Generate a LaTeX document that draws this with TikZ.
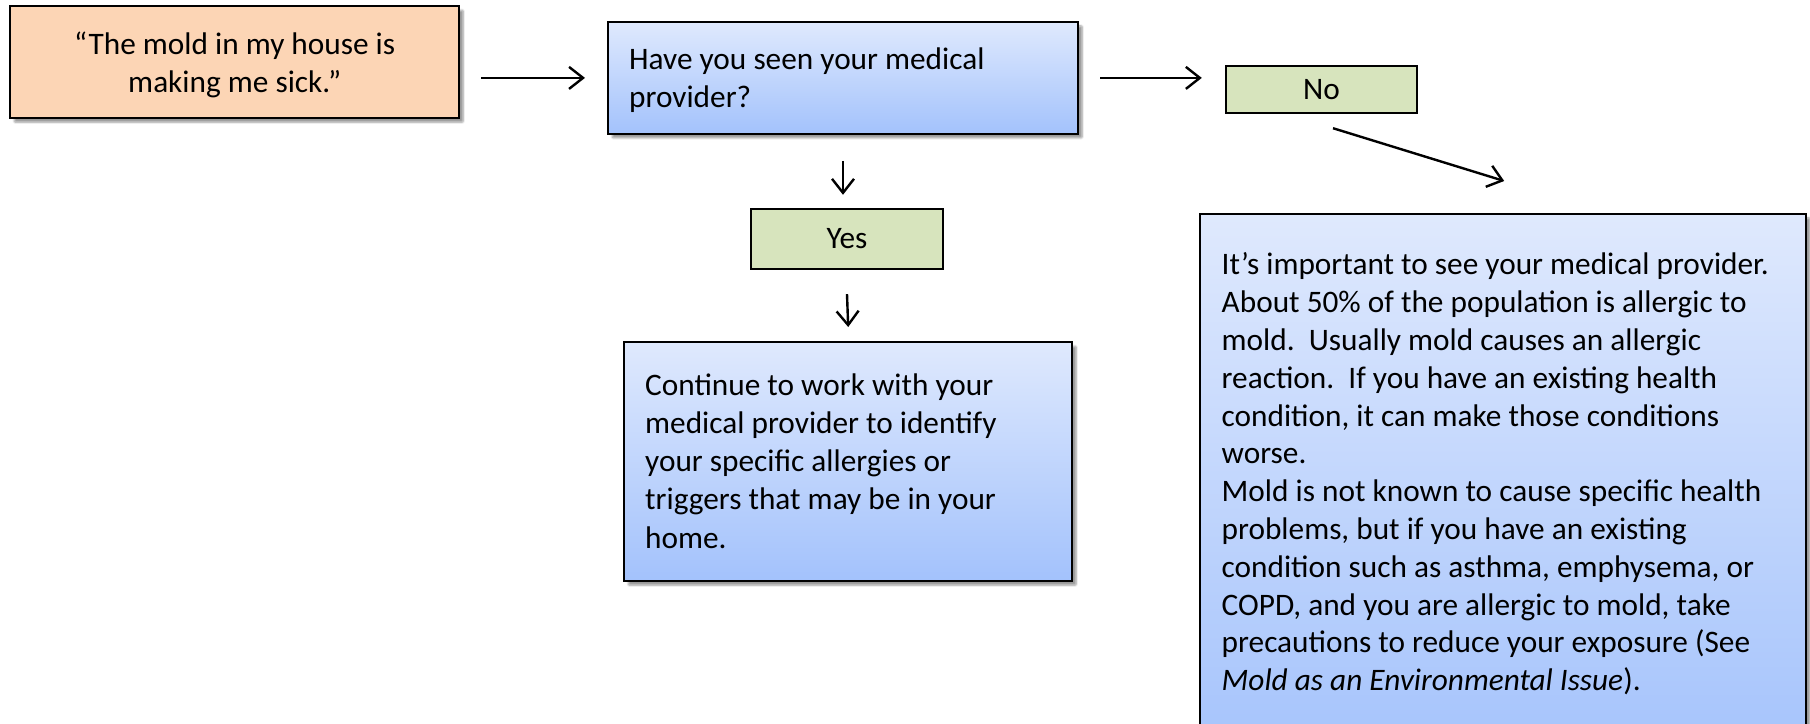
\documentclass[tikz,border=0pt]{standalone}
\usepackage{fontspec}
\setmainfont{Carlito}
\usetikzlibrary{arrows.meta,shadows.blur}
\definecolor{peach}{HTML}{FCD5B5}
\definecolor{leaf}{HTML}{D7E4BD}
\definecolor{bluetop}{HTML}{DFE9FD}
\definecolor{bluebot}{HTML}{A3C2FC}
\newcommand\boxtxt[5]{\parbox[t][#2][t]{#1}{#4\rule{0pt}{#3}#5}}
\newcommand\lft{\raggedright\leftskip=21pt\relax}
\tikzset{
  txt/.style={font=\fontsize{31.3}{38.2}\selectfont},
  shad/.style={blur shadow={shadow xshift=4pt,shadow yshift=-4pt,shadow blur steps=8,shadow blur extra rounding=1pt,shadow opacity=40}},
  peachbox/.style={txt,draw=black,line width=2.4pt,fill=peach,inner sep=0pt,anchor=north west,shad},
  bluebox/.style={txt,draw=black,line width=2.4pt,top color=bluetop,bottom color=bluebot,inner sep=0pt,anchor=north west,shad},
  greenbox/.style={txt,draw=black,line width=2.4pt,fill=leaf,align=center,inner sep=0pt},
  arr/.style={line width=2.4pt,-{Straight Barb[length=14pt,width=22pt]}}
}
\begin{document}
\begin{tikzpicture}[x=1pt,y=-1pt]
\useasboundingbox (0,0) rectangle (1810,723);
\node[peachbox] (b1) at (9,5) {\boxtxt{449pt}{112pt}{48pt}{\centering}{“The mold in my house is\\making me sick.”}};
\node[bluebox] (b2) at (607,20.7) {\boxtxt{470pt}{112pt}{47.6pt}{\lft}{Have you seen your medical\\provider?}};
\node[greenbox,minimum width=191pt,minimum height=47pt] (no) at (1321.5,89.5) {No};
\node[greenbox,minimum width=192pt,minimum height=60pt] (yes) at (847,239) {Yes};
\node[bluebox] (b3) at (623,341) {\boxtxt{448pt}{239pt}{53pt}{\lft}{Continue to work with your\\medical provider to identify\\your specific allergies or\\triggers that may be in your\\home.}};
\node[bluebox] (b4) at (1199,212.7) {\boxtxt{606pt}{560pt}{61pt}{\raggedright\leftskip=21.5pt\fontsize{31.3}{37.8}\selectfont\relax}{It’s important to see your medical provider.\\About 50\% of the population is allergic to\\mold.\ \ Usually mold causes an allergic\\reaction.\ \ If you have an existing health\\condition, it can make those conditions\\worse.\\Mold is not known to cause specific health\\problems, but if you have an existing\\condition such as asthma, emphysema, or\\COPD, and you are allergic to mold, take\\precautions to reduce your exposure (See\\\textit{Mold as an Environmental Issue}).}};
\draw[arr,shorten <=21pt,shorten >=22pt] (b1.east |- b2.west) -- (b2.west);
\draw[arr,shorten <=21pt,shorten >=23pt] (b2.east) -- (b2.east -| no.west);
\draw[arr] ([xshift=-4pt,yshift=47pt]yes.north) -- ([xshift=-4pt,yshift=13pt]yes.north);
\draw[arr] ([yshift=-24pt]yes.south) -- ([yshift=14pt]b3.north);
\draw[arr] ([xshift=11.5pt,yshift=-14pt]no.south) -- ([xshift=1pt,yshift=31.7pt]b4.north);
\end{tikzpicture}
\end{document}
